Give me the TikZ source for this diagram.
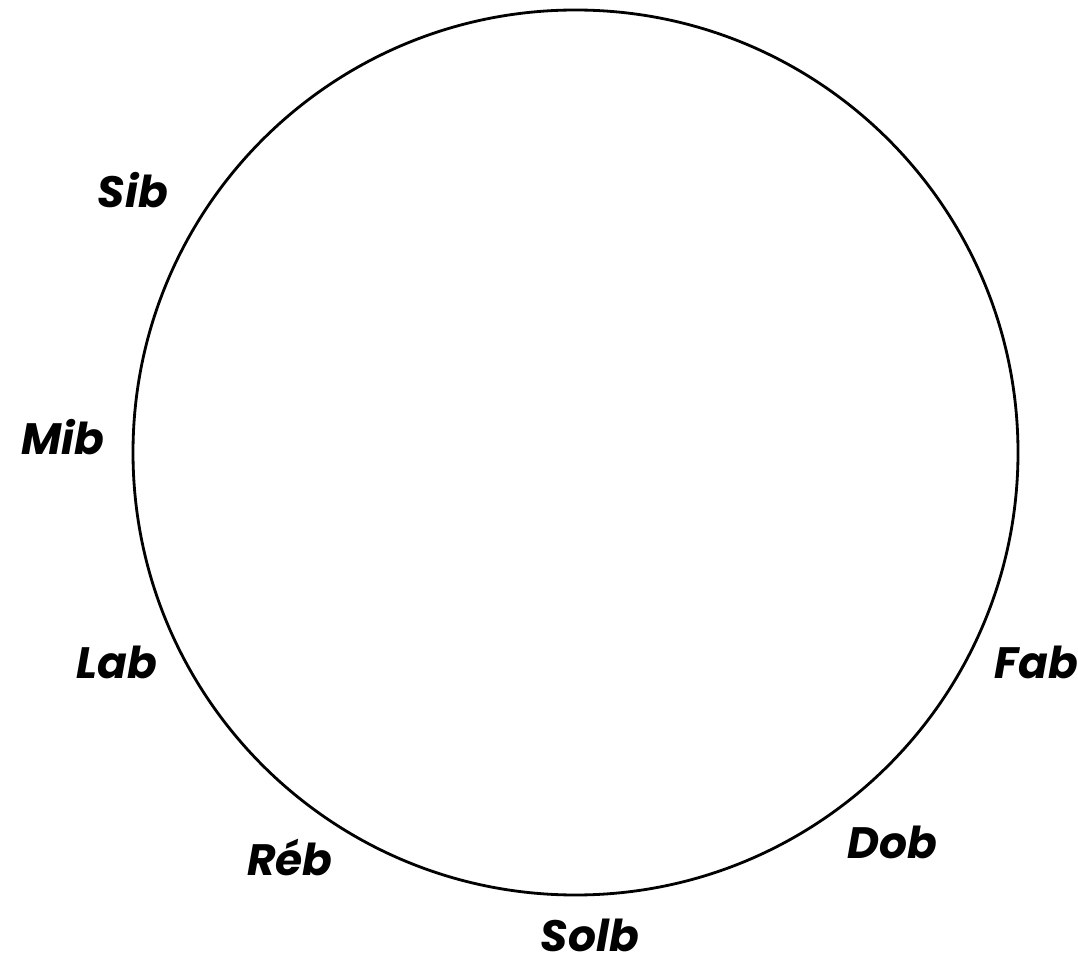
\documentclass[tikz,border=0pt]{standalone}
\usepackage{fontspec}
\setmainfont{Poppins}
\usepackage{tikz}

\tikzset{note/.style={font=\fontsize{25}{30}\selectfont\bfseries\itshape}}

\begin{document}
\begin{tikzpicture}[x=0.02cm,y=-0.02cm]
\useasboundingbox (0,0) rectangle (1078,979);
\draw[line width=1.6pt] (575.5,452.5) circle[radius=442.5];
\node[note] (sib) at (133,190) {Sib};
\node[note] (mib) at (63,437) {Mib};
\node[note] (lab) at (117,662) {Lab};
\node[note] (reb) at (290,857) {Réb};
\node[note] (solb) at (590,935) {Solb};
\node[note] (dob) at (892,842) {Dob};
\node[note] (fab) at (1036,662) {Fab};
\end{tikzpicture}
\end{document}
